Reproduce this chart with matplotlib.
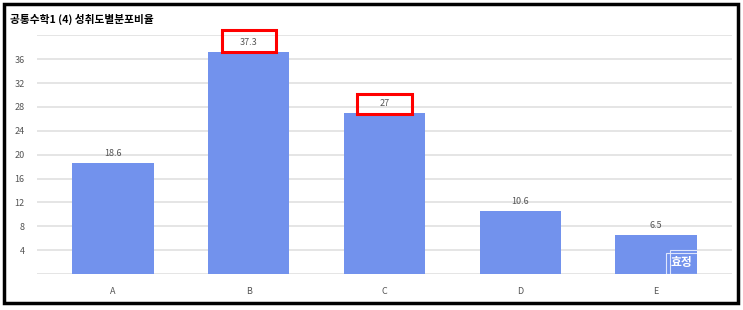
import matplotlib.pyplot as plt
from matplotlib.patches import Rectangle

# data
grades = ['A', 'B', 'C', 'D', 'E']
ratios = [18.6, 37.3, 27, 10.6, 6.5]
yticks = [4, 8, 12, 16, 20, 24, 28, 32, 36]
boxed = {'B': 3.8, 'C': 3.4}   # labels marked with a red box (box height)
title = '공통수학1 (4) 성취도별분포비율'

plt.rcParams['font.family'] = ['Noto Sans CJK KR', 'DejaVu Sans']

fig = plt.figure(figsize=(7.43, 3.10), dpi=100)
ax = fig.add_axes([37/743, 1-274/310, 695/743, (274-35.4)/310])

x = range(len(grades))
bars = ax.bar(x, ratios, width=0.6, color='#7292ED', zorder=2)
for i, v in enumerate(ratios):
    ax.text(i, v + 0.8, f'{v:g}', ha='center', va='bottom', fontsize=6.5, color='#555555')
    if grades[i] in boxed:
        ax.add_patch(Rectangle((i - 0.2, v - 0.15), 0.4, boxed[grades[i]], fill=False,
                               edgecolor='#ff0000', lw=2.2, zorder=5, clip_on=False))

ax.set_xlim(-0.56, 4.56)
ax.set_ylim(0, 40)
ax.set_yticks([0] + yticks + [40])
ax.set_yticklabels([''] + [str(t) for t in yticks] + [''])
ax.set_xticks(list(x))
ax.set_xticklabels(grades)
ax.tick_params(length=0, labelsize=6.5, labelcolor='#555555')
ax.tick_params(axis='y', pad=9)
ax.tick_params(axis='x', pad=9)
ax.grid(axis='y', color='#e3e3e3', lw=1.3, zorder=0)
for s in ax.spines.values():
    s.set_visible(False)

# watermark, clipped to the last bar
last = bars[-1]
wm = [
    Rectangle((4.074, 0), 0.5, 3.5, fill=False, edgecolor='#dfe6fc', lw=0.8, zorder=3),
    Rectangle((4.103, 0), 0.5, 4.0, fill=False, edgecolor='#dfe6fc', lw=0.8, zorder=3),
]
for p in wm:
    ax.add_patch(p)
    p.set_clip_path(last)
t = ax.text(4.11, 1.9, '효정', fontsize=8.5, color='white', fontweight='bold', va='center', zorder=4)
t.set_clip_path(last)

fig.text(10/743, 1-19/310, title, fontsize=7.7, fontweight='bold', va='center', ha='left')

fig.patches.append(Rectangle((4/743, 7/310), 734/743, 299/310, transform=fig.transFigure,
                             fill=False, edgecolor='black', lw=2.5))

fig.savefig('out.png', dpi=100)
